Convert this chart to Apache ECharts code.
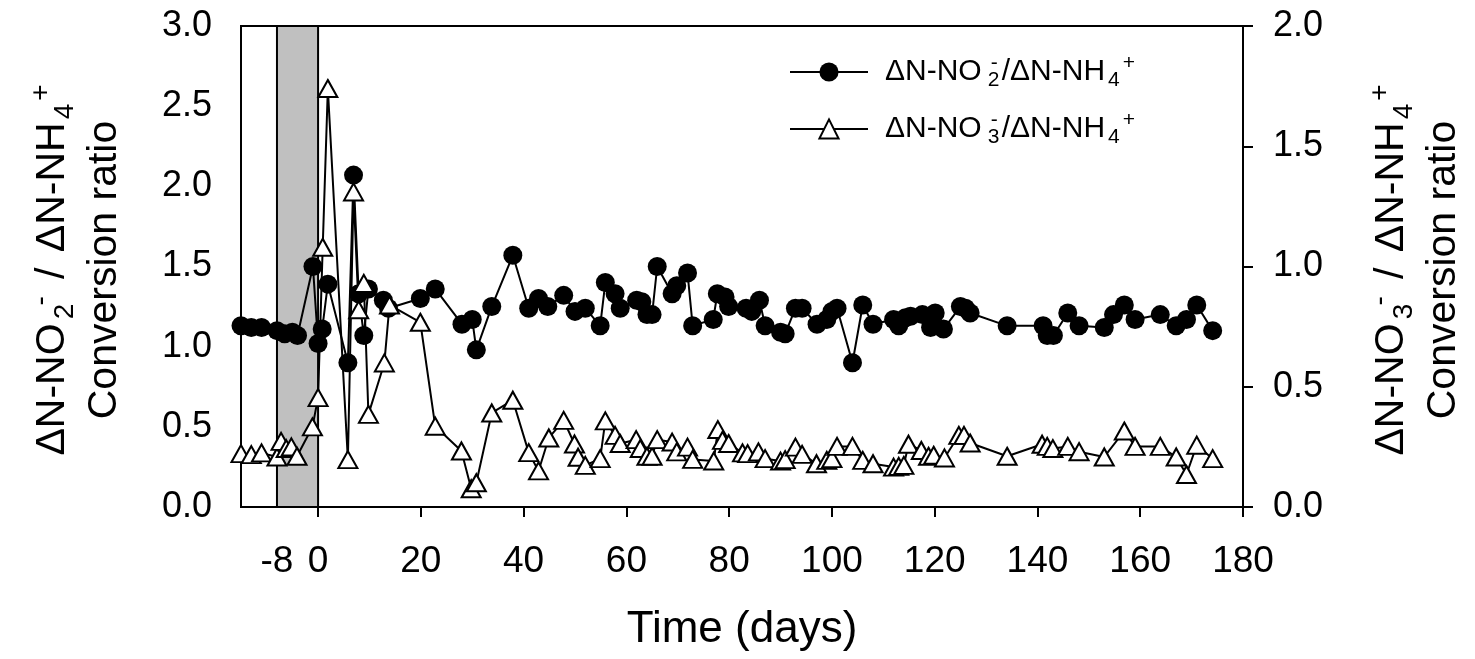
<!DOCTYPE html>
<html><head><meta charset="utf-8">
<script src="https://cdn.jsdelivr.net/npm/echarts@6/dist/echarts.min.js"></script>
<style>html,body{margin:0;padding:0;background:#fff}#c{width:1475px;height:659px}</style>
</head><body><div id="c"></div><script>
// ---- data ----
const nitriteDays = [-15,-13,-11,-8,-6.5,-5,-4,-1,0,0.8,1.9,5.8,6.9,7.9,8.9,9.8,12.7,13.7,19.9,22.8,28,30,30.8,33.8,37.9,41,42.9,44.7,47.8,50,52,54.9,55.9,57.8,58.8,62,63,64,65,66,68.9,69.8,71.9,72.9,76.9,77.7,79.2,79.9,83.3,84.4,85.9,87,90,90.9,92.9,94.2,97.1,99,100,101,104,106,108,112,113,114.3,115.3,117.6,119.2,120.1,121.7,125,126,126.9,134.1,141.1,141.9,143.1,145.9,148.1,153,154.8,156.9,159,163.9,167,169,171,174.1];
const nitriteRatio = [1.13,1.12,1.12,1.10,1.08,1.09,1.07,1.50,1.02,1.11,1.39,0.90,2.07,1.33,1.07,1.36,1.29,1.24,1.30,1.36,1.14,1.17,0.98,1.25,1.57,1.24,1.30,1.25,1.32,1.22,1.24,1.13,1.40,1.33,1.24,1.29,1.28,1.20,1.20,1.50,1.33,1.38,1.46,1.13,1.17,1.33,1.31,1.25,1.24,1.22,1.29,1.13,1.09,1.08,1.24,1.24,1.14,1.17,1.22,1.24,0.90,1.26,1.14,1.17,1.13,1.18,1.19,1.20,1.12,1.21,1.11,1.25,1.24,1.21,1.13,1.13,1.07,1.07,1.21,1.13,1.12,1.20,1.26,1.17,1.20,1.13,1.17,1.26,1.10];
const nitrateDays = [-15,-13,-11,-8,-7.2,-6.2,-5.2,-4.1,-1.1,0,0.9,1.9,5.8,6.9,7.9,8.9,9.8,12.9,13.9,19.9,22.8,27.9,29.8,30.8,33.8,37.9,41,42.9,44.9,47.8,49.9,50.6,52,54.9,55.9,57.8,58.8,61.9,62.7,64,65,66,68.9,69.8,71.9,72.9,77,77.8,78.7,79.9,82.6,83.6,85.7,87,90,90.9,92.9,94.2,97,99,100,101,104,106,108,112,113,114,114.9,117.4,118.8,119.8,121.9,124.7,125.7,126.9,134.1,140.9,141.9,143,145.9,148.1,153,156.9,159,163.9,167,169,171,174.1];
const nitrateRatio = [0.222,0.218,0.225,0.208,0.273,0.243,0.25,0.211,0.333,0.455,1.08,1.74,0.197,1.31,0.82,0.93,0.385,0.599,0.84,0.768,0.336,0.233,0.076,0.101,0.391,0.444,0.226,0.150,0.287,0.36,0.262,0.207,0.173,0.201,0.358,0.298,0.264,0.28,0.243,0.211,0.211,0.28,0.27,0.229,0.249,0.198,0.191,0.322,0.277,0.264,0.225,0.222,0.229,0.201,0.191,0.197,0.249,0.219,0.18,0.194,0.201,0.252,0.252,0.194,0.18,0.166,0.169,0.173,0.261,0.235,0.211,0.215,0.204,0.298,0.298,0.266,0.211,0.261,0.252,0.243,0.252,0.23,0.208,0.316,0.252,0.252,0.208,0.135,0.257,0.201];
const xTickValues = [0,20,40,60,80,100,120,140,160,180];
const xTickLabels = [-8,0,20,40,60,80,100,120,140,160,180];
const startupPeriod = [-8, 0];
const seriesNames = ['ΔN-NO2-/ΔN-NH4+', 'ΔN-NO3-/ΔN-NH4+'];

const FONT = '"Liberation Sans", Arial, Helvetica, sans-serif';
const zip = (a, b) => a.map((d, i) => [d, b[i]]);

// F: main size, S: sub/sup size, L: line height, d: sub/sup shift, g: gap before stacked pair, w: stacked width, c: sup centring offset
function richSet(F, S, L, d, g, w, c) {
  const base = {fontFamily: FONT, color: '#000'};
  return {
    n: Object.assign({fontSize: F, lineHeight: L}, base),
    sl: Object.assign({fontSize: F, lineHeight: L, padding: [0, 4, 0, 4]}, base),
    sb: Object.assign({fontSize: S, lineHeight: S, padding: [d, 0, 0, g], width: 0.01}, base),
    sp: Object.assign({fontSize: S, lineHeight: S, padding: [0, 0, d, c], width: w - c}, base),
    sb4: Object.assign({fontSize: S, lineHeight: S, padding: [d, 0, 0, 3]}, base),
    sp4: Object.assign({fontSize: S, lineHeight: S, padding: [0, 0, d, 3]}, base)
  };
}
const titleRich = richSet(41, 28, 52, 24, 12, 17, 4);
const legendRich = richSet(30, 21, 38, 17, 6, 14, 3);

function titleText(sub) {
  return '{n|ΔN-NO}{sb|' + sub + '}{sp|-}{n| }{sl|/}{n| ΔN-NH}{sb4|4}{sp4|+}\n{n|Conversion ratio}';
}
function legendText(sub) {
  return '{n|ΔN-NO}{sb|' + sub + '}{sp|-}{n|/ΔN-NH}{sb4|4}{sp4|+}';
}

const axisLineStyle = {color: '#000', width: 2};
const chart = echarts.init(document.getElementById('c'), null, {renderer: 'canvas'});
chart.setOption({
  animation: false,
  backgroundColor: '#fff',
  grid: {left: 241, top: 26, width: 1002, height: 481, show: true, borderColor: '#000', borderWidth: 2, backgroundColor: 'transparent'},
  legend: {
    orient: 'vertical', left: 789, top: 53, padding: 0, itemWidth: 78, itemHeight: 24, itemGap: 19,
    data: seriesNames,
    formatter: function (name) { return name === seriesNames[0] ? legendText('2') : legendText('3'); },
    textStyle: {fontFamily: FONT, fontSize: 30, color: '#000', padding: [0, 0, 0, 12], rich: legendRich}
  },
  xAxis: {
    type: 'value', min: -15, max: 180,
    name: 'Time (days)', nameLocation: 'middle', nameGap: 101,
    nameTextStyle: {fontFamily: FONT, fontSize: 44, color: '#000'},
    axisLine: {show: true, onZero: false, lineStyle: axisLineStyle},
    axisTick: {show: true, inside: false, length: 10, lineStyle: axisLineStyle, customValues: xTickValues},
    axisLabel: {fontFamily: FONT, fontSize: 37, color: '#000', margin: 36, customValues: xTickLabels},
    splitLine: {show: false}
  },
  yAxis: [{
    type: 'value', min: 0, max: 3, interval: 0.5, position: 'left',
    axisLine: {show: true, lineStyle: axisLineStyle},
    axisTick: {show: true, inside: false, length: 10, lineStyle: axisLineStyle},
    axisLabel: {fontFamily: FONT, fontSize: 36, color: '#000', margin: 29, formatter: v => v.toFixed(1)},
    splitLine: {show: false}
  }, {
    type: 'value', min: 0, max: 2, interval: 0.5, position: 'right',
    axisLine: {show: true, lineStyle: axisLineStyle},
    axisTick: {show: true, inside: false, length: 10, lineStyle: axisLineStyle},
    axisLabel: {fontFamily: FONT, fontSize: 36, color: '#000', margin: 30, formatter: v => v.toFixed(1)},
    splitLine: {show: false}
  }],
  graphic: [{
    type: 'text', x: 79, y: 270, rotation: Math.PI / 2,
    style: {text: titleText('2'), align: 'center', verticalAlign: 'middle', rich: titleRich, font: '41px ' + FONT}
  }, {
    type: 'text', x: 1418, y: 270, rotation: Math.PI / 2,
    style: {text: titleText('3'), align: 'center', verticalAlign: 'middle', rich: titleRich, font: '41px ' + FONT}
  }],
  series: [{
    name: seriesNames[0], type: 'line', yAxisIndex: 0,
    data: zip(nitriteDays, nitriteRatio),
    symbol: 'circle', symbolSize: 19,
    itemStyle: {color: '#000', borderColor: '#000', borderWidth: 0},
    lineStyle: {color: '#000', width: 2},
    z: 3,
    markArea: {
      silent: true,
      itemStyle: {color: '#c0c0c0', borderColor: '#000', borderWidth: 2},
      data: [[{xAxis: startupPeriod[0]}, {xAxis: startupPeriod[1]}]]
    }
  }, {
    name: seriesNames[1], type: 'line', yAxisIndex: 1,
    data: zip(nitrateDays, nitrateRatio),
    symbol: 'triangle', symbolSize: [19, 17],
    itemStyle: {color: '#fff', borderColor: '#000', borderWidth: 2},
    lineStyle: {color: '#000', width: 2},
    z: 4
  }]
});
</script></body></html>
